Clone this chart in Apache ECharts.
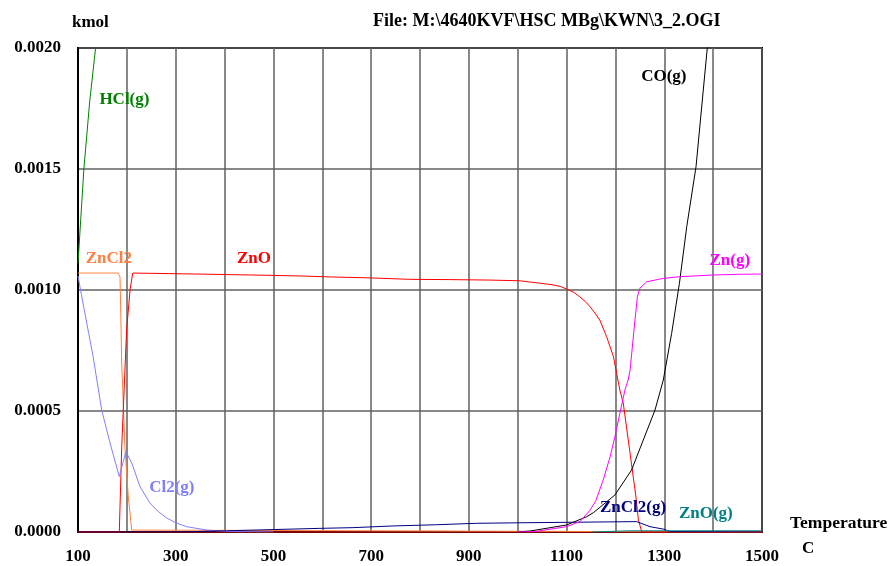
<!DOCTYPE html>
<html>
<head>
<meta charset="utf-8">
<script src="https://cdn.jsdelivr.net/npm/echarts@6/dist/echarts.min.js"></script>
<style>html,body{margin:0;padding:0;background:#fff}#c{width:890px;height:566px}</style>
</head>
<body>
<div id="c"></div>
<script>
// ---- data (temperature C, kmol) ----
var xTicks = [100, 300, 500, 700, 900, 1100, 1300, 1500];
var yTicks = [0, 0.0005, 0.001, 0.0015, 0.002];

var hclT = [100, 112, 124, 136, 142];
var hclV = [0.00111, 0.00150, 0.00178, 0.00200, 0.00210];

var zncl2T = [100, 182, 186, 189.5, 196, 203, 210, 213, 1500];
var zncl2V = [0.00107, 0.00107, 0.001054, 0.000698, 0.000351, 0.000145, 0.000008, 0, 0];

var znoT = [100, 184.5, 189.5, 199.5, 206.5, 212, 340, 455, 554, 616, 698, 780, 861, 943, 1005, 1046, 1070, 1087, 1100, 1115, 1127, 1138, 1148, 1158, 1168, 1182, 1196, 1209, 1216, 1229, 1242, 1247, 1254, 1500];
var znoV = [0, 0, 0.000351, 0.000835, 0.001, 0.00107, 0.001066, 0.001062, 0.001058, 0.001054, 0.00105, 0.001044, 0.001043, 0.001041, 0.001038, 0.001028, 0.001022, 0.001015, 0.001004, 0.00099, 0.000972, 0.000953, 0.000931, 0.000905, 0.000876, 0.000807, 0.000724, 0.000587, 0.000533, 0.000339, 0.000145, 0.00005, 0, 0];

var cl2T = [100, 107, 114, 122, 131, 148.5, 165.5, 184.5, 198, 210, 227, 247, 265, 281.5, 300, 322.5, 363.5, 404, 500];
var cl2V = [0.001058, 0.00098, 0.000905, 0.00082, 0.000724, 0.000504, 0.000368, 0.000229, 0.000332, 0.000285, 0.000187, 0.00012, 0.000083, 0.000058, 0.000038, 0.000022, 0.000008, 0.000002, 0];

var zncl2gT = [100, 300, 404, 595, 663, 745, 834, 916, 1001, 1100, 1243, 1271, 1298, 1312, 1500];
var zncl2gV = [0, 0, 0.000005, 0.000015, 0.000018, 0.000025, 0.00003, 0.000036, 0.000038, 0.00004, 0.000043, 0.000022, 0.000012, 0.000002, 0];

var coT = [1000, 1025, 1100, 1141, 1155, 1199, 1233, 1257, 1281, 1298, 1315, 1331, 1346, 1365, 1388, 1395];
var coV = [0, 0.000004, 0.000029, 0.000063, 0.00008, 0.000153, 0.000256, 0.00038, 0.000504, 0.000628, 0.00082, 0.001028, 0.001262, 0.00151, 0.002, 0.00206];

var zngT = [1000, 1032, 1100, 1127.5, 1148, 1160, 1175, 1189, 1199, 1209, 1219.5, 1226, 1230, 1240, 1245, 1250, 1264, 1298, 1332, 1400, 1455, 1500];
var zngV = [0, 0.000001, 0.000022, 0.000043, 0.00009, 0.00013, 0.000215, 0.00031, 0.000394, 0.00049, 0.000587, 0.000628, 0.000669, 0.000876, 0.000972, 0.001007, 0.001034, 0.001048, 0.001055, 0.001062, 0.001065, 0.001066];

var znogT = [1150, 1230, 1500];
var znogV = [0, 0.000005, 0.000005];

// label anchor points [T, kmol]
var names  = ['HCl(g)', 'ZnCl2', 'ZnO', 'Cl2(g)', 'ZnCl2(g)', 'CO(g)', 'Zn(g)', 'ZnO(g)'];
var labelT = [195, 163, 460, 292, 1236, 1299, 1434, 1385];
var labelV = [0.001785, 0.00113, 0.00113, 0.000185, 0.0001, 0.00188, 0.00112, 0.000075];
var colors = ['#008000', '#ff8040', '#ff0000', '#8080ff', '#000080', '#000000', '#ff00ff', '#008080'];

var seriesT = [hclT, zncl2T, znoT, cl2T, zncl2gT, coT, zngT, znogT];
var seriesV = [hclV, zncl2V, znoV, cl2V, zncl2gV, coV, zngV, znogV];

var font = '"Liberation Serif", "Times New Roman", serif';

var series = names.map(function (n, i) {
  return {
    name: n,
    type: 'line',
    showSymbol: false,
    symbol: 'none',
    clip: true,
    data: seriesT[i].map(function (t, j) { return [t, seriesV[i][j]]; }),
    lineStyle: { color: colors[i], width: 1 },
    itemStyle: { color: colors[i] },
    markPoint: {
      symbol: 'circle',
      symbolSize: 0,
      silent: true,
      data: [{ coord: [labelT[i], labelV[i]] }],
      label: {
        show: true, position: 'inside', formatter: n,
        color: colors[i], fontFamily: font, fontWeight: 'bold', fontSize: 17
      }
    }
  };
});

var chart = echarts.init(document.getElementById('c'), null, { renderer: 'canvas' });
chart.setOption({
  animation: false,
  backgroundColor: '#fff',
  grid: { left: 78, right: 128, top: 48, bottom: 34, show: true, borderColor: '#000', borderWidth: 2, backgroundColor: 'transparent' },
  xAxis: {
    type: 'value', min: 100, max: 1500, interval: 100,
    axisLine: { show: true, onZero: false, lineStyle: { color: '#7a0000', width: 2 } },
    axisTick: { show: false },
    splitLine: { show: true, lineStyle: { color: '#606060', width: 1.5 } },
    axisLabel: {
      margin: 16, color: '#000', fontFamily: font, fontWeight: 'bold', fontSize: 17,
      formatter: function (v) { return xTicks.indexOf(Math.round(v)) >= 0 ? String(Math.round(v)) : ''; }
    }
  },
  yAxis: {
    type: 'value', min: 0, max: 0.002, interval: 0.0005,
    axisLine: { show: true, lineStyle: { color: '#000', width: 2 } },
    axisTick: { show: false },
    splitLine: { show: true, lineStyle: { color: '#606060', width: 1.5 } },
    axisLabel: {
      margin: 17, color: '#000', fontFamily: font, fontWeight: 'bold', fontSize: 17,
      formatter: function (v) { return v.toFixed(4); }
    }
  },
  graphic: [
    { type: 'text', left: 72, top: 14, style: { text: 'kmol', font: 'bold 17px ' + font, fill: '#000' } },
    { type: 'text', left: 373, top: 12, style: { text: 'File: M:\\4640KVF\\HSC MBg\\KWN\\3_2.OGI', font: 'bold 18px ' + font, fill: '#000' } },
    { type: 'text', left: 790, top: 514, style: { text: 'Temperature', font: 'bold 17.5px ' + font, fill: '#000' } },
    { type: 'text', left: 802, top: 540, style: { text: 'C', font: 'bold 17px ' + font, fill: '#000' } }
  ],
  series: series
});
</script>
</body>
</html>
